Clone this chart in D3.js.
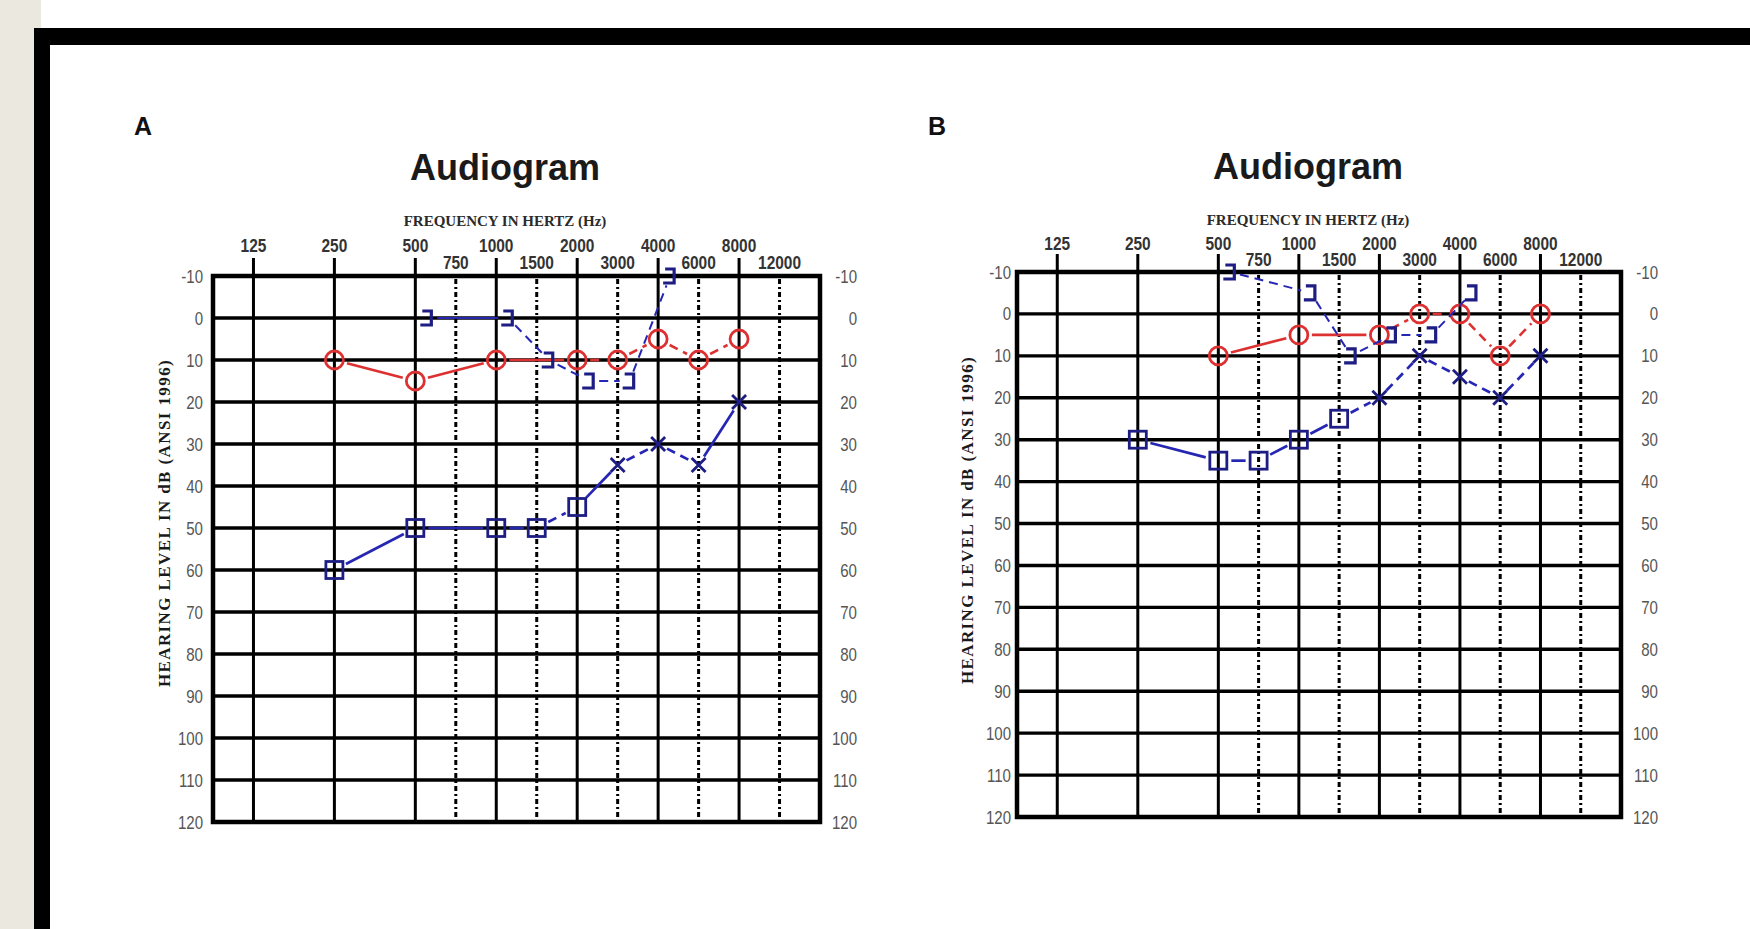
<!DOCTYPE html>
<html>
<head>
<meta charset="utf-8">
<script src="https://cdn.jsdelivr.net/npm/d3@7"></script>
<style>
  html, body { margin: 0; padding: 0; background: #fff; }
  svg { display: block; }
</style>
</head>
<body>
<svg id="chart" width="1750" height="929"></svg>
<script>
// frequency labels (octaves on the upper row, half-octaves below)
const octaveFreqs = [125, 250, 500, 1000, 2000, 4000, 8000];
const halfFreqs = [750, 1500, 3000, 6000, 12000];
const dbTicks = [-10, 0, 10, 20, 30, 40, 50, 60, 70, 80, 90, 100, 110, 120];

// Panel A
const aAirRightFreq = [250, 500, 1000, 2000, 3000, 4000, 6000, 8000];
const aAirRightDb = [10, 15, 10, 10, 10, 5, 10, 5];
const aBoneFreq = [500, 1000, 1500, 2000, 3000, 4000];
const aBoneDb = [0, 0, 10, 15, 15, -10];
const aLeftFreq = [250, 500, 1000, 1500, 2000, 3000, 4000, 6000, 8000];
const aLeftDb = [60, 50, 50, 50, 45, 35, 30, 35, 20];
const aLeftSymbol = ['square', 'square', 'square', 'square', 'square', 'x', 'x', 'x', 'x'];

// Panel B
const bAirRightFreq = [500, 1000, 2000, 3000, 4000, 6000, 8000];
const bAirRightDb = [10, 5, 5, 0, 0, 10, 0];
const bBoneFreq = [500, 1000, 1500, 2000, 3000, 4000];
const bBoneDb = [-10, -5, 10, 5, 5, -5];
const bLeftFreq = [250, 500, 750, 1000, 1500, 2000, 3000, 4000, 6000, 8000];
const bLeftDb = [30, 35, 35, 30, 25, 20, 10, 15, 20, 10];
const bLeftSymbol = ['square', 'square', 'square', 'square', 'square', 'x', 'x', 'x', 'x', 'x'];

const RED = '#dd3131';
const NAVY = '#1d1d84';
const BLUE = '#2626b4';
const DASH = '9,6';

const panels = [
  {
    letter: 'A', letterX: 134,
    left: 213, right: 820, top: 276, bottom: 822,
    titleX: 505, titleY: 180, freqTitleY: 226,
    octY: 252, halfY: 269, leftLabelX: 203, rightLabelX: 857,
    yTitleX: 166, yTitleY: 523,
    series: [
      { freq: aAirRightFreq, db: aAirRightDb, symbol: () => 'circle', color: RED, width: 2.6,
        dash: [0, 0, 0, 1, 1, 1, 1] },
      { freq: aBoneFreq, db: aBoneDb, symbol: () => 'bracket', color: BLUE, width: 2, offset: 12,
        dash: [0, 1, 1, 1, 1] },
      { freq: aLeftFreq, db: aLeftDb, symbol: i => aLeftSymbol[i], color: BLUE, width: 2.7,
        dash: [0, 0, 0, 1, 0, 1, 1, 0] }
    ]
  },
  {
    letter: 'B', letterX: 928,
    left: 1017, right: 1621, top: 272, bottom: 817,
    titleX: 1308, titleY: 179, freqTitleY: 225,
    octY: 250, halfY: 266, leftLabelX: 1011, rightLabelX: 1658,
    yTitleX: 969, yTitleY: 520,
    series: [
      { freq: bAirRightFreq, db: bAirRightDb, symbol: () => 'circle', color: RED, width: 2.6,
        dash: [0, 0, 1, 1, 1, 1] },
      { freq: bBoneFreq, db: bBoneDb, symbol: () => 'bracket', color: BLUE, width: 2, offset: 12,
        dash: [1, 1, 1, 1, 1] },
      { freq: bLeftFreq, db: bLeftDb, symbol: i => bLeftSymbol[i], color: BLUE, width: 2.7,
        dash: [0, 0, 0, 0, 1, 1, 1, 1, 1] }
    ]
  }
];

const svg = d3.select('#chart');

// page background: beige strip and black frame
svg.append('rect').attr('x', 0).attr('y', 0).attr('width', 1750).attr('height', 929).attr('fill', '#fff');
svg.append('rect').attr('x', 0).attr('y', 0).attr('width', 41).attr('height', 28).attr('fill', '#ebe8df');
svg.append('rect').attr('x', 0).attr('y', 0).attr('width', 34).attr('height', 929).attr('fill', '#ebe8df');
svg.append('rect').attr('x', 34).attr('y', 28).attr('width', 1716).attr('height', 17).attr('fill', '#000');
svg.append('rect').attr('x', 34).attr('y', 28).attr('width', 16).attr('height', 901).attr('fill', '#000');

// half-octave frequencies sit midway between the octaves
const octave = f => halfFreqs.includes(f) ? Math.log2(f / 1.5 / 125) + 0.5 : Math.log2(f / 125);

function condensed(g, x, y, txt, anchor) {
  return g.append('text')
    .attr('transform', 'translate(' + x + ',' + y + ') scale(0.86,1)')
    .attr('text-anchor', anchor)
    .text(txt);
}

function marker(g, kind, cx, cy) {
  if (kind === 'circle') {
    g.append('circle').attr('cx', cx).attr('cy', cy).attr('r', 9)
      .attr('fill', 'none').attr('stroke', RED).attr('stroke-width', 2.8);
  } else if (kind === 'square') {
    g.append('rect').attr('x', cx - 8.5).attr('y', cy - 8.5).attr('width', 17).attr('height', 17)
      .attr('fill', 'none').attr('stroke', NAVY).attr('stroke-width', 2.8);
  } else if (kind === 'x') {
    g.append('path').attr('d', 'M' + (cx - 7) + ',' + (cy - 7) + 'L' + (cx + 7) + ',' + (cy + 7) +
      'M' + (cx + 7) + ',' + (cy - 7) + 'L' + (cx - 7) + ',' + (cy + 7))
      .attr('fill', 'none').attr('stroke', NAVY).attr('stroke-width', 2.8);
  } else {
    g.append('path').attr('d', 'M' + (cx - 5) + ',' + (cy - 7) + 'H' + (cx + 4) + 'V' + (cy + 7) + 'H' + (cx - 7))
      .attr('fill', 'none').attr('stroke', NAVY).attr('stroke-width', 3.2);
  }
}

const trimOf = { circle: 13, square: 13, x: 10, bracket: 10 };

panels.forEach(p => {
  const g = svg.append('g');
  const x = d3.scaleLinear().domain([-0.5, 7]).range([p.left, p.right]);
  const y = d3.scaleLinear().domain([-10, 120]).range([p.top, p.bottom]);

  // panel letter and titles
  g.append('text').attr('x', p.letterX).attr('y', 135)
    .attr('font-family', 'Liberation Sans, Arial, sans-serif').attr('font-weight', 'bold')
    .attr('font-size', 25).attr('fill', '#111').text(p.letter);
  g.append('text').attr('x', p.titleX).attr('y', p.titleY).attr('text-anchor', 'middle')
    .attr('font-family', 'Liberation Sans, Arial, sans-serif').attr('font-weight', 'bold')
    .attr('font-size', 36).attr('fill', '#1a1a1a').text('Audiogram');
  g.append('text').attr('x', p.titleX).attr('y', p.freqTitleY).attr('text-anchor', 'middle')
    .attr('font-family', 'Liberation Serif, Times New Roman, serif').attr('font-weight', 'bold')
    .attr('font-size', 15).attr('fill', '#2a2a2a').text('FREQUENCY IN HERTZ (Hz)');
  g.append('text')
    .attr('transform', 'translate(' + p.yTitleX + ',' + p.yTitleY + ') rotate(-90)')
    .attr('text-anchor', 'middle').attr('dominant-baseline', 'middle')
    .attr('font-family', 'Liberation Serif, Times New Roman, serif').attr('font-weight', 'bold')
    .attr('font-size', 17).attr('letter-spacing', 1.4).attr('fill', '#1a1a1a')
    .text('HEARING LEVEL IN dB (ANSI 1996)');

  // frequency tick labels
  const top = g.append('g').attr('font-family', 'Liberation Sans, Arial, sans-serif')
    .attr('font-weight', 'bold').attr('font-size', 18).attr('fill', '#333');
  octaveFreqs.forEach(f => condensed(top, x(octave(f)), p.octY, f, 'middle'));
  halfFreqs.forEach(f => condensed(top, x(octave(f)), p.halfY, f, 'middle'));

  // hearing level labels on both sides
  const side = g.append('g').attr('font-family', 'Liberation Sans, Arial, sans-serif')
    .attr('font-size', 17.5).attr('fill', '#555');
  dbTicks.forEach(d => {
    condensed(side, p.leftLabelX, y(d) + 6.5, d, 'end');
    condensed(side, p.rightLabelX, y(d) + 6.5, d, 'end');
  });

  // grid
  const grid = g.append('g').attr('stroke', '#000').attr('fill', 'none');
  dbTicks.forEach(d => {
    grid.append('line').attr('x1', p.left).attr('x2', p.right).attr('y1', y(d)).attr('y2', y(d))
      .attr('stroke-width', 3.4);
  });
  octaveFreqs.forEach(f => {
    grid.append('line').attr('x1', x(octave(f))).attr('x2', x(octave(f)))
      .attr('y1', p.top - 18).attr('y2', p.bottom).attr('stroke-width', 3);
  });
  halfFreqs.forEach(f => {
    grid.append('line').attr('x1', x(octave(f))).attr('x2', x(octave(f)))
      .attr('y1', p.top + 3).attr('y2', p.bottom - 3).attr('stroke-width', 3)
      .attr('stroke-dasharray', '5,3,2,3');
  });
  grid.append('rect').attr('x', p.left).attr('y', p.top)
    .attr('width', p.right - p.left).attr('height', p.bottom - p.top).attr('stroke-width', 4.5);

  // series: connecting lines trimmed short of each marker, then markers
  p.series.forEach(s => {
    const pts = s.freq.map((f, i) => ({
      x: x(octave(f)) + (s.offset || 0),
      y: y(s.db[i]),
      kind: s.symbol(i)
    }));
    const lines = g.append('g').attr('fill', 'none').attr('stroke', s.color).attr('stroke-width', s.width);
    for (let i = 0; i < pts.length - 1; i++) {
      const a = pts[i], b = pts[i + 1];
      const dx = b.x - a.x, dy = b.y - a.y, len = Math.hypot(dx, dy);
      const ta = trimOf[a.kind], tb = trimOf[b.kind];
      if (len <= ta + tb) continue;
      const ux = dx / len, uy = dy / len;
      lines.append('line')
        .attr('x1', a.x + ux * ta).attr('y1', a.y + uy * ta)
        .attr('x2', b.x - ux * tb).attr('y2', b.y - uy * tb)
        .attr('stroke-dasharray', s.dash[i] ? DASH : null);
    }
    const marks = g.append('g');
    pts.forEach(pt => marker(marks, pt.kind, pt.x, pt.y));
  });
});
</script>
</body>
</html>
